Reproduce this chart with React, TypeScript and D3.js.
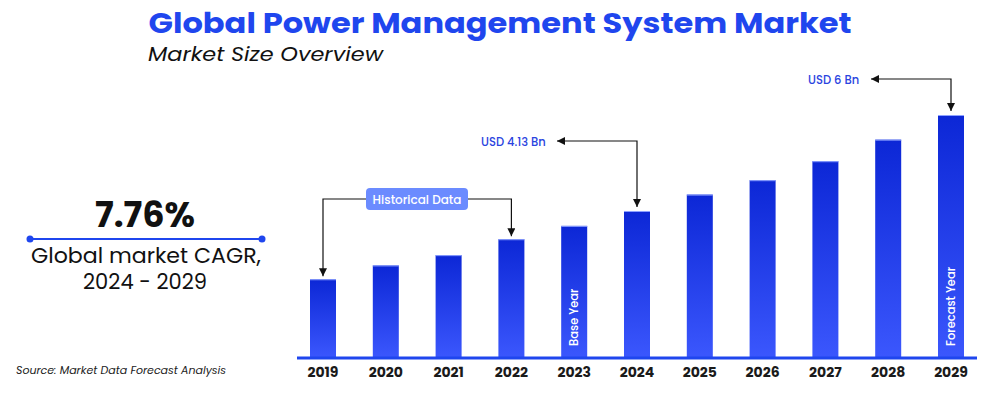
import React from "react";
import * as d3 from "d3";

const years = ["2019","2020","2021","2022","2023","2024","2025","2026","2027","2028","2029"];
const marketSize = [2.80, 3.07, 3.27, 3.58, 3.84, 4.13, 4.45, 4.73, 5.10, 5.52, 6.0];
const yDomain = [1.266, 6.0];
const title = "Global Power Management System Market";
const subtitle = "Market Size Overview";
const cagrValue = "7.76%";
const cagrLabel1 = "Global market CAGR,";
const cagrLabel2 = "2024 - 2029";
const sourceText = "Source: Market Data Forecast Analysis";
const historicalLabel = "Historical Data";
const label2024 = "USD 4.13 Bn";
const label2029 = "USD 6 Bn";

const FONT = "Poppins, 'Open Sans', Lato, sans-serif";

export default function App() {
  const baseline = 358;
  const x = d3.scaleBand<string>().domain(years).range([297, 977]).paddingInner(0.586).paddingOuter(0.207);
  const y = d3.scaleLinear().domain(yDomain).range([baseline, 115]);
  const bw = x.bandwidth();
  const cx = (yr: string) => (x(yr) as number) + bw / 2;
  const top = (i: number) => y(marketSize[i]);

  const i19 = 0, i22 = 3, i24 = 5, i29 = 10;
  const histY = 199;

  return (
    <svg width={1000} height={395} style={{ position: "absolute", left: 0, top: 0, background: "#fff" }}>
      <defs>
        <linearGradient id="barGrad" x1="0" y1="0" x2="0" y2="1">
          <stop offset="0%" stopColor="#0c27d6" />
          <stop offset="100%" stopColor="#3b57fd" />
        </linearGradient>
        <marker id="arr" viewBox="0 0 10 10" refX="10" refY="5" markerWidth="8" markerHeight="8" markerUnits="userSpaceOnUse" orient="auto-start-reverse">
          <path d="M0,0 L10,5 L0,10 z" fill="#111" />
        </marker>
      </defs>

      {/* Title */}
      <text x={500} y={33} textAnchor="middle" fontFamily={FONT} fontWeight={700} fontSize={28}
        fill="#1f46ee" textLength={703} lengthAdjust="spacingAndGlyphs">{title}</text>
      <text x={148} y={61} fontFamily={FONT} fontStyle="italic" fontSize={20} fill="#111"
        textLength={235} lengthAdjust="spacingAndGlyphs">{subtitle}</text>

      {/* CAGR block */}
      <text x={145} y={227} textAnchor="middle" fontFamily={FONT} fontWeight={700} fontSize={35} fill="#111">{cagrValue}</text>
      <line x1={30} x2={262} y1={239} y2={239} stroke="#1f46ee" strokeWidth={2} />
      <circle cx={30} cy={239} r={3.5} fill="#1f46ee" />
      <circle cx={262} cy={239} r={3.5} fill="#1f46ee" />
      <text x={146} y={263} textAnchor="middle" fontFamily={FONT} fontSize={21} fill="#111"
        textLength={230} lengthAdjust="spacingAndGlyphs">{cagrLabel1}</text>
      <text x={145} y={289} textAnchor="middle" fontFamily={FONT} fontSize={21} fill="#111">{cagrLabel2}</text>

      {/* Source */}
      <text x={16} y={374} fontFamily={FONT} fontStyle="italic" fontSize={11} fill="#222">{sourceText}</text>

      {/* Bars */}
      {years.map((yr, i) => (
        <g key={yr}>
          <rect x={x(yr)} y={top(i)} width={bw} height={baseline - top(i)} fill="url(#barGrad)" />
          <rect x={x(yr)} y={top(i)} width={bw} height={1} fill="#8ea2ff" />
          <text x={cx(yr)} y={377} textAnchor="middle" fontFamily={FONT} fontWeight={700} fontSize={14} fill="#1a1a1a">{yr}</text>
        </g>
      ))}

      {/* Axis line */}
      <line x1={297} x2={977} y1={358} y2={358} stroke="#1f46ee" strokeWidth={3} />

      {/* Rotated labels */}
      <text transform={`translate(${cx("2023") + 4},346) rotate(-90)`} fontFamily={FONT} fontWeight={500} fontSize={11.5} fill="#fff">Base Year</text>
      <text transform={`translate(${cx("2029") + 4},346) rotate(-90)`} fontFamily={FONT} fontWeight={500} fontSize={11.5} fill="#fff">Forecast Year</text>

      {/* Historical data annotation */}
      <path d={`M366,${histY} H${cx(years[i19])} V${top(i19) - 3}`} fill="none" stroke="#111" strokeWidth={1.2} markerEnd="url(#arr)" />
      <path d={`M468,${histY} H${cx(years[i22])} V${top(i22) - 3}`} fill="none" stroke="#111" strokeWidth={1.2} markerEnd="url(#arr)" />
      <rect x={366} y={188} width={102} height={22} rx={4} fill="#6b8bff" />
      <text x={417} y={203.5} textAnchor="middle" fontFamily={FONT} fontWeight={500} fontSize={12} fill="#fff">{historicalLabel}</text>

      {/* 2024 annotation */}
      <path d={`M${cx(years[i24])},${top(i24) - 4} V141 H557`} fill="none" stroke="#111" strokeWidth={1.2} markerStart="url(#arr)" markerEnd="url(#arr)" />
      <text x={481} y={145.5} fontFamily={FONT} fontWeight={500} fontSize={11.5} fill="#2a44e0">{label2024}</text>

      {/* 2029 annotation */}
      <path d={`M${cx(years[i29])},${top(i29) - 4} V79 H871`} fill="none" stroke="#111" strokeWidth={1.2} markerStart="url(#arr)" markerEnd="url(#arr)" />
      <text x={808} y={83.5} fontFamily={FONT} fontWeight={500} fontSize={11.5} fill="#2a44e0">{label2029}</text>
    </svg>
  );
}
